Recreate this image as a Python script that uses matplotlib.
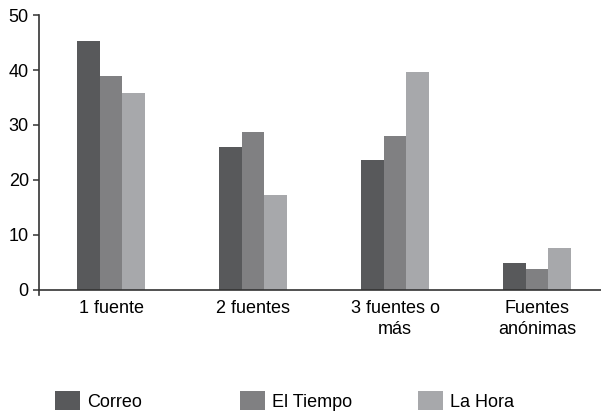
import matplotlib
matplotlib.use("Agg")
import matplotlib.pyplot as plt
import numpy as np

categories = ["1 fuente", "2 fuentes", "3 fuentes o\nmás", "Fuentes\nanónimas"]
series_names = ["Correo", "El Tiempo", "La Hora"]
correo = [45.3, 26.0, 23.6, 4.9]
el_tiempo = [38.9, 28.7, 28.0, 3.8]
la_hora = [35.8, 17.3, 39.6, 7.6]
yticks = [0, 10, 20, 30, 40, 50]

colors = ["#58595b", "#808082", "#a7a8ab"]

plt.rcParams['font.family'] = ['Liberation Sans', 'DejaVu Sans']
fs = 13

fig = plt.figure(figsize=(6.01, 4.17), dpi=100)
ax = fig.add_axes([0.0649, 0.3046, 0.9351, 0.6594])

x = np.arange(len(categories))
w = 0.159
bars = []
for i, (vals, c) in enumerate(zip([correo, el_tiempo, la_hora], colors)):
    b = ax.bar(x + (i - 1) * w, vals, width=w, color=c, label=series_names[i], zorder=2)
    bars.append(b)

ax.set_xlim(-0.507, 3.45)
ax.set_ylim(0, 50)
ax.set_yticks(yticks)
ax.set_xticks(x)
ax.set_xticklabels(categories, fontsize=fs, linespacing=1.3)
ax.tick_params(axis='x', length=0, pad=7)
ax.tick_params(axis='y', length=4.3, width=1.1, pad=3, labelsize=fs, color="#333333")
for s in ["top", "right"]:
    ax.spines[s].set_visible(False)
for s in ["left", "bottom"]:
    ax.spines[s].set_linewidth(1.2)
    ax.spines[s].set_color("#333333")
ax.spines["left"].set_bounds(-0.9, 50)

# legends placed individually
positions = [0.0915, 0.399, 0.695]
for b, name, px in zip(bars, series_names, positions):
    fig.legend([b], [name], loc="center left", bbox_to_anchor=(px, 0.038),
               frameon=False, fontsize=fs, handlelength=1.39, handleheight=1.22,
               handletextpad=0.38, borderaxespad=0, borderpad=0)

fig.savefig("out.png", dpi=100)
